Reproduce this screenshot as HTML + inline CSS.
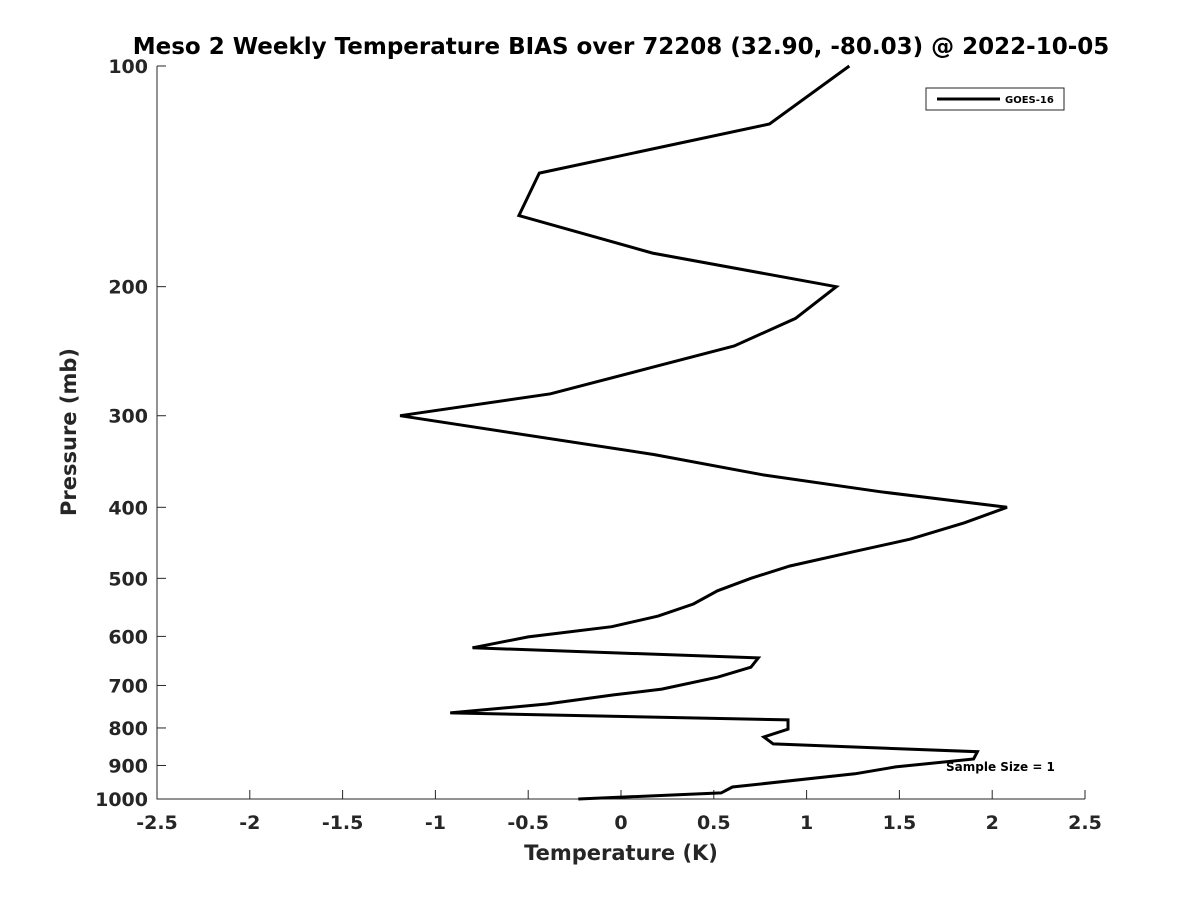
<!DOCTYPE html>
<html><head><meta charset="utf-8"><style>
body{margin:0;background:#fff;}
svg text{font-family:"DejaVu Sans","Liberation Sans",sans-serif;font-weight:bold;}
</style></head><body>
<svg id="chart" width="1200" height="900" xmlns="http://www.w3.org/2000/svg"></svg>
<script>
const temps = [1.23,0.80,-0.44,-0.55,0.17,1.16,0.94,0.61,0.16,-0.38,-1.19,0.18,0.76,1.40,2.08,1.85,1.56,1.25,0.91,0.70,0.52,0.39,0.20,-0.05,-0.50,-0.80,0.74,0.70,0.52,0.22,-0.04,-0.40,-0.92,0.90,0.90,0.77,0.82,1.92,1.90,1.48,1.26,0.60,0.54,-0.23];
const pressures = [100,120,140,160,180,200,221,241,258,280,300,339,361,381,400,420,442,460,481,500,520,542,563,582,601,622,642,661,682,708,721,742,763,780,803,823,841,862,882,904,924,963,981,1000];
const xTicks = [-2.5,-2,-1.5,-1,-0.5,0,0.5,1,1.5,2,2.5];
const xTickLabels = ["-2.5","-2","-1.5","-1","-0.5","0","0.5","1","1.5","2","2.5"];
const yTicks = [100,200,300,400,500,600,700,800,900,1000];
const yTickLabels = ["100","200","300","400","500","600","700","800","900","1000"];

const L=157,R=1085,T=66,B=799;
const xs=v=>L+(v+2.5)/5*(R-L);
const ys=p=>T+Math.log10(p/100)*(B-T);
const svg=document.getElementById('chart');
const NS='http://www.w3.org/2000/svg';
function mk(tag,attrs,parent){const e=document.createElementNS(NS,tag);for(const k in attrs)e.setAttribute(k,attrs[k]);(parent||svg).appendChild(e);return e;}

let t=mk('text',{x:621,y:54,'font-size':23,'text-anchor':'middle',fill:'#000'});


t.textContent='Meso 2 Weekly Temperature BIAS over 72208 (32.90, -80.03) @ 2022-10-05';

let ax=mk('path',{d:`M${L},${T}V${B}H${R}`,stroke:'#262626',fill:'none','stroke-width':1});



xTicks.forEach((v,i)=>{
  const x=xs(v);
  let tk=mk('line',{x1:x,x2:x,y1:B,y2:B-9,stroke:'#262626'});
  
  
  let lb=mk('text',{x:x,y:B+30,'font-size':19,'text-anchor':'middle',fill:'#262626'});
  
  
  lb.textContent=xTickLabels[i];
});
yTicks.forEach((p,i)=>{
  const y=ys(p);
  let tk=mk('line',{x1:L,x2:L+9,y1:y,y2:y,stroke:'#262626'});
  
  
  let lb=mk('text',{x:L-9,y:y+7,'font-size':19,'text-anchor':'end',fill:'#262626'});
  
  
  lb.textContent=yTickLabels[i];
});

let xt=mk('text',{x:621,y:860,'font-size':21,'text-anchor':'middle',fill:'#262626'});


xt.textContent='Temperature (K)';
let yt=mk('text',{x:0,y:0,'font-size':21,'text-anchor':'middle',fill:'#262626',transform:'translate(76,432) rotate(-90)'});


yt.textContent='Pressure (mb)';

const d=temps.map((v,i)=>(i?'L':'M')+xs(v).toFixed(1)+','+ys(pressures[i]).toFixed(1)).join('');
let ln=mk('path',{d:d,stroke:'#000',fill:'none','stroke-width':3,'stroke-linejoin':'miter'});



let lg=mk('g',{});


mk('rect',{x:926,y:88,width:138,height:22,fill:'#fff',stroke:'#262626'},lg);
mk('line',{x1:937,x2:1000,y1:99,y2:99,stroke:'#000','stroke-width':3},lg);
let lt=mk('text',{x:1005,y:103,'font-size':10,fill:'#000'},lg);


lt.textContent='GOES-16';

let ss=mk('text',{x:946,y:771,'font-size':12,fill:'#000'});


ss.textContent='Sample Size = 1';
</script>
</body></html>
